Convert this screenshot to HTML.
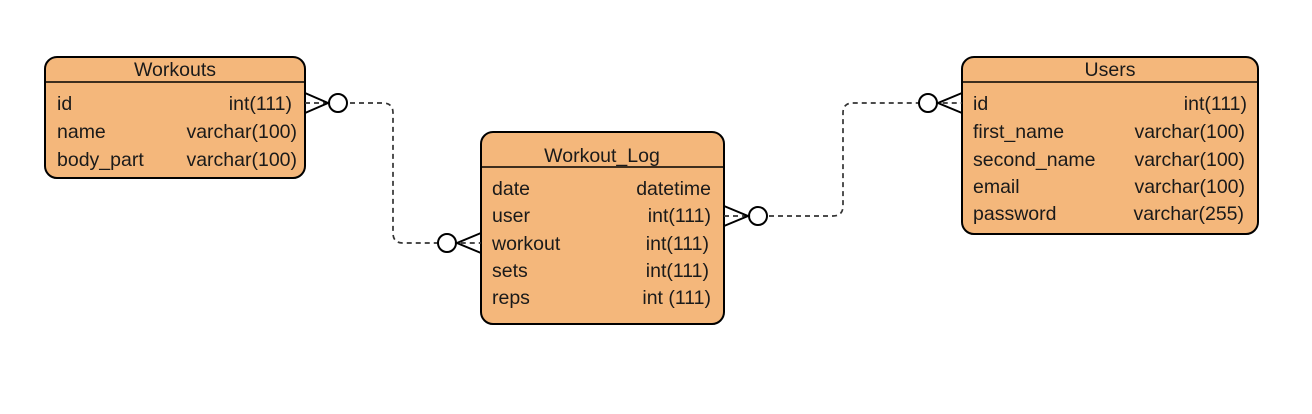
<!DOCTYPE html>
<html><head><meta charset="utf-8"><style>html,body{margin:0;padding:0;background:#fff}</style></head>
<body>
<svg width="1312" height="409" xmlns="http://www.w3.org/2000/svg" font-family="Liberation Sans, Arial, sans-serif" font-size="19.5" fill="#1a1a1a">
<g stroke="#000" stroke-width="2" fill="#F4B77B">
<rect x="45" y="57" width="260" height="121" rx="12"/>
<rect x="481" y="132" width="243" height="192" rx="12"/>
<rect x="962" y="57" width="296" height="177" rx="12"/>
</g>
<g stroke="#000" stroke-width="1.5">
<line x1="45" y1="82" x2="305" y2="82"/>
<line x1="481" y1="167" x2="724" y2="167"/>
<line x1="962" y1="82" x2="1258" y2="82"/>
</g>
<g fill="none" stroke="#333" stroke-width="1.7" stroke-dasharray="5,4">
<path d="M305 103 H383 Q393 103 393 113 V233 Q393 243 403 243 H481"/>
<path d="M724 216 H833 Q843 216 843 206 V113 Q843 103 853 103 H962"/>
</g>
<g fill="#fff" stroke="#000" stroke-width="2">
<circle cx="338" cy="103" r="9"/>
<circle cx="447" cy="243" r="9"/>
<circle cx="758" cy="216" r="9"/>
<circle cx="928" cy="103" r="9"/>
</g>
<g fill="none" stroke="#000" stroke-width="2">
<path d="M305 93 L328 103 L305 113"/>
<path d="M481 233 L457 243 L481 253"/>
<path d="M724 206 L748 216 L724 226"/>
<path d="M962 93 L938 103 L962 113"/>
</g>
<g text-anchor="middle">
<text x="175" y="76">Workouts</text>
<text x="602" y="162">Workout_Log</text>
<text x="1110" y="76">Users</text>
</g>
<text x="57" y="110">id</text>
<text x="57" y="138">name</text>
<text x="57" y="166">body_part</text>
<text x="492" y="195">date</text>
<text x="492" y="222">user</text>
<text x="492" y="250">workout</text>
<text x="492" y="277">sets</text>
<text x="492" y="304">reps</text>
<text x="973" y="110">id</text>
<text x="973" y="138">first_name</text>
<text x="973" y="166">second_name</text>
<text x="973" y="193">email</text>
<text x="973" y="220">password</text>
<g text-anchor="end">
<text x="292" y="110">int(111)</text>
<text x="297" y="138">varchar(100)</text>
<text x="297" y="166">varchar(100)</text>
<text x="711" y="195">datetime</text>
<text x="711" y="222">int(111)</text>
<text x="709" y="250">int(111)</text>
<text x="709" y="277">int(111)</text>
<text x="711" y="304">int (111)</text>
<text x="1247" y="110">int(111)</text>
<text x="1245" y="138">varchar(100)</text>
<text x="1245" y="166">varchar(100)</text>
<text x="1245" y="193">varchar(100)</text>
<text x="1244" y="220">varchar(255)</text>
</g>
</svg>
</body></html>
